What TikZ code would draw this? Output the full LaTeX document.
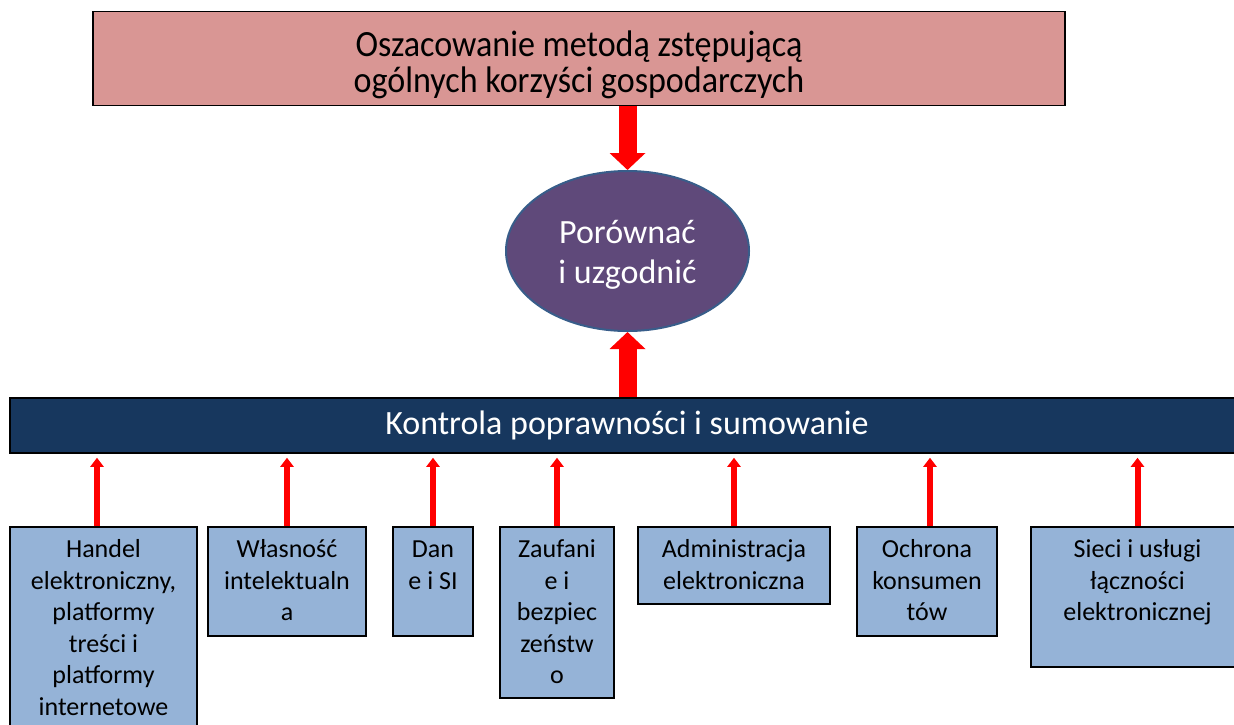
\documentclass[tikz,border=0pt]{standalone}
\usepackage{fontspec}
\setmainfont{Carlito}
\newfontfamily\condfont{Carlito}[FakeStretch=0.92]
\usetikzlibrary{arrows.meta,shapes.geometric}
\definecolor{topfill}{HTML}{D99694}
\definecolor{ellfill}{HTML}{5F497A}
\definecolor{ellline}{HTML}{385D8A}
\definecolor{barfill}{HTML}{17375E}
\definecolor{boxfill}{HTML}{95B3D7}
\definecolor{arrred}{HTML}{FF0000}
\begin{document}
\begin{tikzpicture}[x=1pt,y=-1pt,
  lowbox/.style={draw=black,line width=1.5pt,fill=boxfill,inner sep=0pt},
  boxtext/.style={font=\fontsize{26}{31.5}\selectfont,align=center,inner sep=0pt,anchor=north,text=black},
  bigarrow/.style={draw=arrred,line width=18pt,-{Triangle[width=35pt,length=17pt]}},
  smallarrow/.style={draw=arrred,line width=6pt,-{Triangle[width=13pt,length=9pt]}}]
\useasboundingbox (0,0) rectangle (1234,724);

% top box
\node[draw=black,line width=1.5pt,fill=topfill,minimum width=972pt,minimum height=94pt,inner sep=0pt] (top) at (579,58.5) {};
\node[font=\condfont\fontsize{37}{36}\selectfont,align=center,inner sep=0pt,anchor=north] (toptext) at ([yshift=-19.5pt]top.north) {\rule{0pt}{25.5pt}Oszacowanie metodą zstępującą\\ogólnych korzyści gospodarczych};

% ellipse
\node[ellipse,draw=ellline,line width=2pt,fill=ellfill,minimum width=243pt,minimum height=160pt,inner sep=0pt,text=white,font=\fontsize{34}{40}\selectfont,align=center] (ell) at (627.5,251) {\rule{0pt}{30pt}Porównać\\i uzgodnić};

% bar
\node[draw=black,line width=1.5pt,fill=barfill,minimum width=1234pt,minimum height=55pt,inner sep=0pt,text=white,font=\fontsize{34}{40}\selectfont] (bar) at (627,425.5) {\raisebox{-2pt}{Kontrola poprawności i sumowanie}};

% lower boxes
\node[lowbox,minimum width=187pt,minimum height=213pt] (b1) at (103.5,633.5) {};
\node[lowbox,minimum width=158pt,minimum height=109pt] (b2) at (287,581.5) {};
\node[lowbox,minimum width=80pt,minimum height=109pt] (b3) at (433,581.5) {};
\node[lowbox,minimum width=114pt,minimum height=171pt] (b4) at (557,612.5) {};
\node[lowbox,minimum width=192pt,minimum height=77pt] (b5) at (734,565.5) {};
\node[lowbox,minimum width=140pt,minimum height=109pt] (b6) at (927,581.5) {};
\node[lowbox,minimum width=213pt,minimum height=140pt] (b7) at (1137.5,597) {};

\node[boxtext] (t1) at ([yshift=-9pt]b1.north) {\strut Handel\\elektroniczny,\\platformy\\treści i\\platformy\\internetowe};
\node[boxtext] (t2) at ([yshift=-9pt]b2.north) {\strut Własność\\intelektualn\\a};
\node[boxtext] (t3) at ([yshift=-9pt]b3.north) {\strut Dan\\e i SI};
\node[boxtext] (t4) at ([yshift=-9pt]b4.north) {\strut Zaufani\\e i\\bezpiec\\zeństw\\o};
\node[boxtext] (t5) at ([yshift=-9pt]b5.north) {\strut Administracja\\elektroniczna};
\node[boxtext] (t6) at ([yshift=-9pt]b6.north) {\strut Ochrona\\konsumen\\tów};
\node[boxtext] (t7) at ([yshift=-9pt]b7.north) {\strut Sieci i usługi\\łączności\\elektronicznej};

% big arrows
\coordinate (ta) at (ell.north |- top.south);
\draw[bigarrow] (ta) -- (ell.north);
\coordinate (ba) at (ell.south |- bar.north);
\draw[bigarrow] (ba) -- (ell.south);

% small arrows
\coordinate (a1) at ([xshift=-6.5pt]b1.north);
\draw[smallarrow,shorten >=4pt] (a1) -- (a1 |- bar.south);
\draw[smallarrow,shorten >=4pt] (b2.north) -- (b2.north |- bar.south);
\draw[smallarrow,shorten >=4pt] (b3.north) -- (b3.north |- bar.south);
\draw[smallarrow,shorten >=4pt] (b4.north) -- (b4.north |- bar.south);
\draw[smallarrow,shorten >=4pt] (b5.north) -- (b5.north |- bar.south);
\coordinate (a6) at ([xshift=3pt]b6.north);
\draw[smallarrow,shorten >=4pt] (a6) -- (a6 |- bar.south);
\draw[smallarrow,shorten >=4pt] (b7.north) -- (b7.north |- bar.south);
\end{tikzpicture}
\end{document}
